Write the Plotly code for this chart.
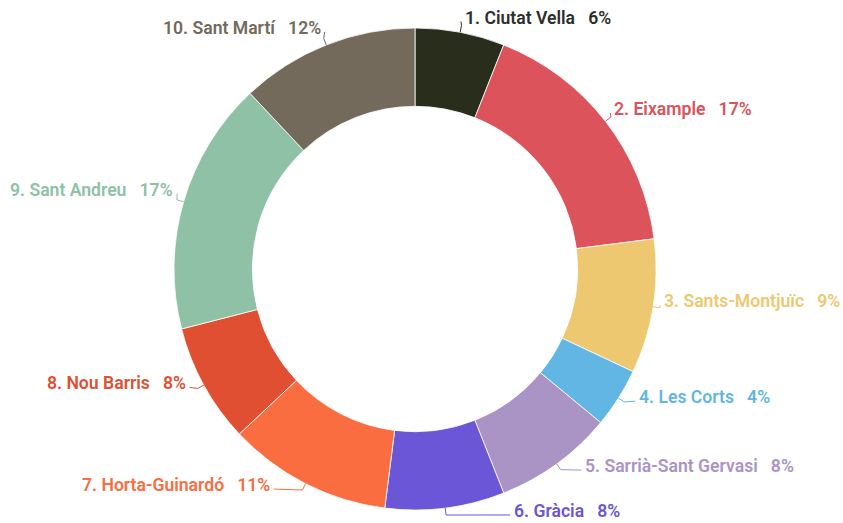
import math
import plotly.graph_objects as go

# ---- data ----
districts = ["1. Ciutat Vella", "2. Eixample", "3. Sants-Montjuïc", "4. Les Corts",
             "5. Sarrià-Sant Gervasi", "6. Gràcia", "7. Horta-Guinardó",
             "8. Nou Barris", "9. Sant Andreu", "10. Sant Martí"]
shares = [6, 17, 9, 4, 8, 8, 11, 8, 17, 12]
colors = ["#292d1c", "#dc535b", "#eec870", "#62b6e3", "#aa94c6",
          "#6a56d6", "#fa6d40", "#e04f31", "#8ec1a6", "#736a5c"]
text_colors = ["#2b2f27", "#dc535b", "#eec870", "#62b6e3", "#aa94c6",
               "#6a56d6", "#fa6d40", "#e04f31", "#8ec1a6", "#736a5c"]

# ---- layout constants (pixels) ----
W, H = 843, 523
dom_l, dom_r, dom_t, dom_b = 174, 656, 28, 510
hole = 0.675
# per-label nudges (dx, dy) in px to untangle labels
nudges = [(0, 0), (-5, -3), (-6, -8), (6, -9), (18, -10),
          (65, -12), (-27, -12), (-3, -9), (6, -8), (2, -3)]

cx = (dom_l + dom_r) / 2
cy = (dom_t + dom_b) / 2
R = min(dom_r - dom_l, dom_b - dom_t) / 2

fig = go.Figure(go.Pie(
    labels=districts, values=shares, sort=False, direction="clockwise",
    rotation=0, hole=hole, textinfo="none", hoverinfo="label+percent",
    marker=dict(colors=colors, line=dict(color="rgba(255,255,255,0.8)", width=1)),
    domain=dict(x=[dom_l / W, dom_r / W], y=[1 - dom_b / H, 1 - dom_t / H]),
    showlegend=False,
))

def px(x):
    return x / W

def py(y):
    return 1 - y / H

total = sum(shares)
cum = 0
annotations = []
shapes = []
for name, v, col, tcol, (ndx, ndy) in zip(districts, shares, colors, text_colors, nudges):
    mid = (cum + v / 2) / total * 2 * math.pi
    cum += v
    s, c = math.sin(mid), math.cos(mid)
    ex, ey = cx + R * s, cy - R * c
    bx, by = cx + (R + 7) * s, cy - (R + 7) * c
    ax, ay = cx + (R + 15) * s + ndx, cy - (R + 15) * c + ndy
    right = s >= 0
    endx = ax - 2 if right else ax + 2
    shapes.append(dict(
        type="path", xref="paper", yref="paper",
        path=f"M {px(ex)} {py(ey)} L {px(bx)} {py(by)} L {px(endx)} {py(ay + 4)}",
        line=dict(color=col, width=1),
    ))
    annotations.append(dict(
        x=px(ax), y=py(ay), xref="paper", yref="paper",
        text=f"{name}\u00a0\u00a0\u00a0{v}%", showarrow=False,
        xanchor="left" if right else "right", yanchor="middle",
        font=dict(family="Roboto", size=17.6, color=tcol, weight=600),
    ))

fig.update_layout(
    width=W, height=H, margin=dict(l=0, r=0, t=0, b=0),
    paper_bgcolor="white", plot_bgcolor="white",
    annotations=annotations, shapes=shapes,
)
fig.write_html("out.html", config={"displayModeBar": False},
               post_script="document.body.style.margin='0';document.body.style.padding='0';")
